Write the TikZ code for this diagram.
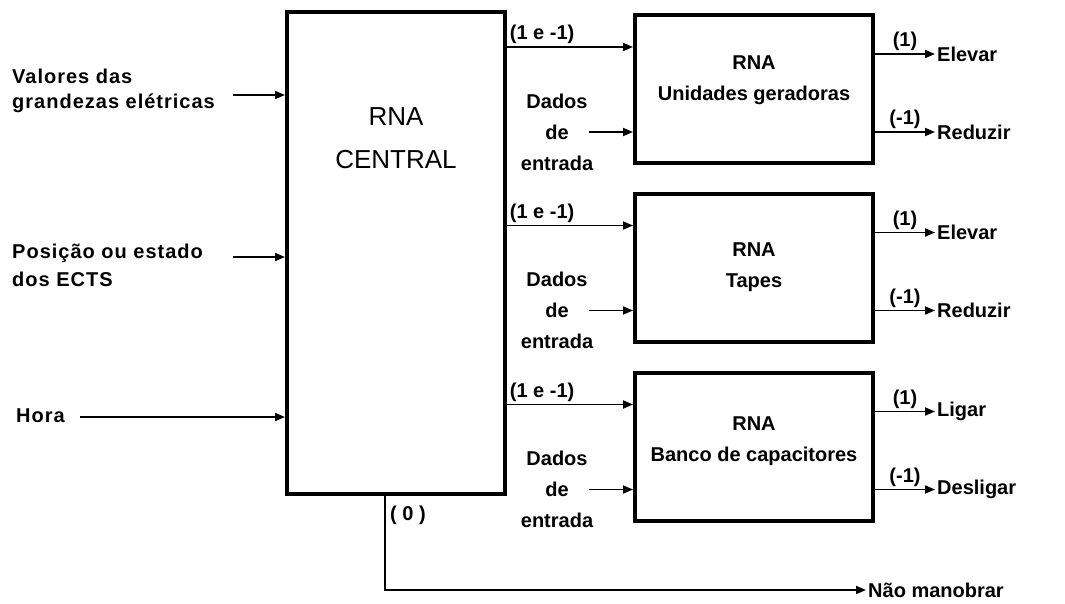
\documentclass[tikz,border=0pt]{standalone}
\usepackage{fontspec}
\setmainfont{Liberation Sans}
\usetikzlibrary{arrows.meta, positioning, calc}

\begin{document}
\begin{tikzpicture}[
  x=1pt, y=-1pt,
  lbl/.style={font=\bfseries\fontsize{20}{#1}\selectfont, inner sep=2pt},
  lbl/.default=25,
  spaced/.style={font=\bfseries\fontsize{20}{#1}\selectfont\addfontfeature{LetterSpace=5},
    inner sep=2pt, align=left, anchor=west},
  spaced/.default=25,
  bigbox/.style={draw, line width=4pt, minimum width=218pt, minimum height=482pt},
  unitbox/.style={draw, line width=4pt, minimum width=238pt, minimum height=148pt},
  arr/.style={-{Triangle[length=10pt,width=8pt]}, line width=1.8pt},
]
  \useasboundingbox (0,0) rectangle (1065,603);

  % central network and its inputs
  \node[bigbox] (central) at (396,253) {};
  \node[font=\fontsize{26}{43}\selectfont, align=center] (ctitle) at (396,138) {RNA\\CENTRAL};

  \node[spaced=25] (val) at (10,90.5) {Valores das\\grandezas elétricas};
  \node[spaced=28] (pos) at (10,265) {Posição ou estado\\dos ECTS};
  \node[spaced] (hora) at (14,416) {Hora};
  \coordinate (vs) at (233,95);
  \coordinate (ps) at (233,257);
  \coordinate (hs) at (80,417);
  \draw[arr] (vs) -- (central.west |- vs);
  \draw[arr] (ps) -- (central.west |- ps);
  \draw[arr] (hs) -- (central.west |- hs);

  % specialised networks
  \foreach \n/\y/\dy/\name/\outa/\outb in {
      1/89/9/Unidades geradoras/Elevar/Reduzir,
      2/267.5/0/Tapes/Elevar/Reduzir,
      3/446.5/5/Banco de capacitores/Ligar/Desligar} {
    \node[unitbox] (u\n) at (754,\y) {};
    \node[lbl=31, align=center] (t\n) at ([yshift=\dy pt]u\n.center) {RNA\\\name};
    \coordinate (in\n) at ([yshift=42pt]u\n.west);
    \draw[arr] (central.east |- in\n) -- (in\n) node[lbl, pos=0, anchor=south west] (k\n) {(1 e -1)};
    \node[lbl=31, align=center] (d\n) at (557,{\y+43}) {Dados\\de\\entrada};
    \coordinate (ds\n) at (589,{\y+43});
    \draw[arr] (ds\n) -- (u\n.west |- ds\n);
    \coordinate (oa\n) at ([xshift=60pt, yshift=35pt]u\n.east);
    \coordinate (ob\n) at ([xshift=60pt, yshift=-43pt]u\n.east);
    \draw[arr] (u\n.east |- oa\n) -- (oa\n) node[lbl, midway, above] (pa\n) {(1)};
    \draw[arr] (u\n.east |- ob\n) -- (ob\n) node[lbl, midway, above] (pb\n) {(-1)};
    \node[lbl, right] (na\n) at (oa\n) {\outa};
    \node[lbl, right] (nb\n) at (ob\n) {\outb};
  }

  % no action output
  \coordinate (zero) at (385,496);
  \node[lbl, anchor=west] (nm) at (866,590) {Não manobrar};
  \node[lbl] (zlbl) at (408,515) {( 0 )};
  \draw[arr] (central.south -| zero) |- (nm.west);
\end{tikzpicture}
\end{document}
